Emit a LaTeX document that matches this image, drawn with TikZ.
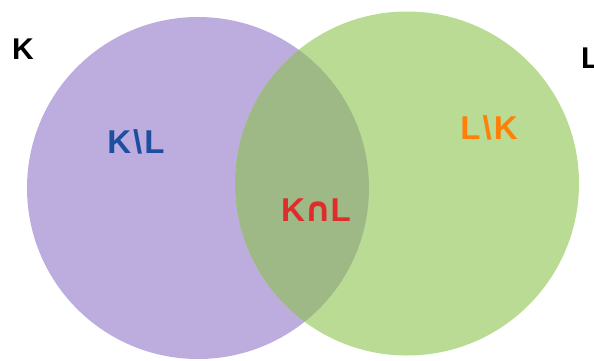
\documentclass[tikz,border=0pt]{standalone}
\usepackage{fontspec}
\setmainfont{Liberation Sans}
\newfontfamily\symfont{DejaVu Sans}
\definecolor{setK}{RGB}{189,173,223}
\definecolor{setL}{RGB}{185,219,148}
\definecolor{both}{RGB}{158,184,134}
\definecolor{kblue}{RGB}{30,78,160}
\definecolor{kred}{RGB}{222,45,45}
\definecolor{korange}{RGB}{255,128,8}

\begin{document}
\begin{tikzpicture}[x = 1pt, y = 1pt,
  lbl/.style = {font = \fontsize{33}{33}\selectfont\bfseries, inner sep = 0pt},
  setname/.style = {font = \fontsize{30}{30}\selectfont\bfseries, inner sep = 0pt}]
\useasboundingbox (0,0) rectangle (594,360);
\fill[setK] (198,172) circle (171);
\fill[setL] (407,176.5) circle (172);
\begin{scope}
\clip (198,172) circle (171);
\fill[both] (407,176.5) circle (172);
\end{scope}
\node[setname] (K) at (23,311) {K};
\node[setname, anchor = west] (L) at (581,302) {L};
\node[lbl, text = kblue] (KminusL) at (136,218) {K\kern2pt\textbackslash\kern2pt L};
\node[lbl, text = korange] (LminusK) at (489,232) {L\kern2pt\textbackslash\kern2pt K};
\node[lbl, text = kred] (KcapL) at (316,150) {K\kern-1pt{\symfont\fontsize{34}{34}\selectfont ∩}\kern-1pt L};

\end{tikzpicture}
\end{document}
